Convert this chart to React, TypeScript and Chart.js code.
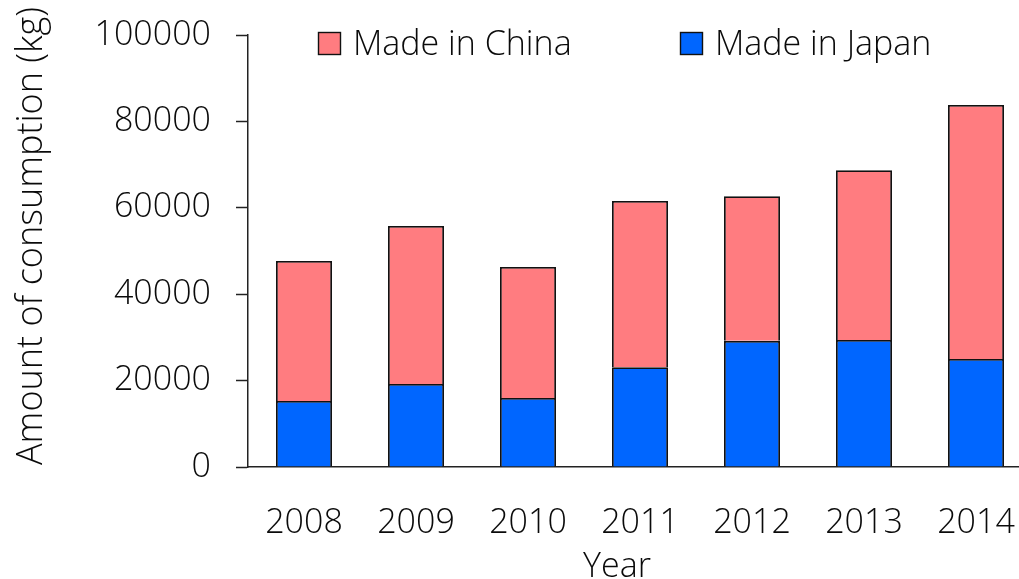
import React, { useEffect, useRef } from "react";
import { Chart, registerables } from "chart.js";

Chart.register(...registerables);

const categories = ["2008", "2009", "2010", "2011", "2012", "2013", "2014"];
const japanValues = [15300, 19200, 16000, 23100, 29200, 29400, 25000];
const totalValues = [47700, 55800, 46300, 61600, 62700, 68700, 83800];
const chinaValues = totalValues.map((t, i) => t - japanValues[i]);
const yTicks = [0, 20000, 40000, 60000, 80000, 100000];
const seriesNames = ["Made in China", "Made in Japan"];
const yTitle = "Amount of consumption (kg)";
const xTitle = "Year";

const FONT = "'Open Sans', sans-serif";
const PINK = "#FF7C80";
const BLUE = "#0066FF";
const INK = "#0a0a0a";

const decorPlugin = {
  id: "decor",
  afterDraw(chart: any) {
    const ctx = chart.ctx;
    ctx.save();
    ctx.fillStyle = INK;
    ctx.font = `300 34px ${FONT}`;
    const items = [
      { name: seriesNames[0], color: PINK, x: 318 },
      { name: seriesNames[1], color: BLUE, x: 680 },
    ];
    items.forEach((it) => {
      ctx.fillStyle = it.color;
      ctx.fillRect(it.x, 32, 23, 23);
      ctx.strokeStyle = "#111";
      ctx.lineWidth = 1.4;
      ctx.strokeRect(it.x + 0.5, 32.5, 22, 22);
      ctx.fillStyle = INK;
      ctx.textAlign = "left";
      ctx.textBaseline = "alphabetic";
      ctx.fillText(it.name, it.x + 35, 55);
    });
    ctx.save();
    ctx.font = `300 36px ${FONT}`;
    ctx.translate(42, 236);
    ctx.rotate(-Math.PI / 2);
    ctx.textAlign = "center";
    ctx.textBaseline = "alphabetic";
    ctx.fillText(yTitle, 0, 0);
    ctx.restore();
    ctx.textAlign = "center";
    ctx.textBaseline = "alphabetic";
    ctx.fillText(xTitle, 617, 577);
    ctx.restore();
  },
};

export default function App() {
  const ref = useRef<HTMLCanvasElement>(null);
  useEffect(() => {
    const canvas = ref.current!;
    const chart = new Chart(canvas, {
      type: "bar",
      data: {
        labels: categories,
        datasets: [
          {
            label: seriesNames[1],
            data: japanValues,
            backgroundColor: BLUE,
            borderColor: "#111",
            borderWidth: 1.8,
            barPercentage: 0.5,
            categoryPercentage: 1,
          },
          {
            label: seriesNames[0],
            data: chinaValues,
            backgroundColor: PINK,
            borderColor: "#111",
            borderWidth: 1.8,
            barPercentage: 0.5,
            categoryPercentage: 1,
          },
        ],
      },
      options: {
        responsive: false,
        devicePixelRatio: 1,
        animation: false,
        layout: { padding: { left: 0, right: 8, top: 35, bottom: 0 } },
        plugins: {
          legend: { display: false },
          tooltip: { enabled: false },
        },
        scales: {
          x: {
            stacked: true,
            grid: { display: false, drawTicks: false },
            border: { display: true, color: "#222", width: 1.5 },
            ticks: {
              color: INK,
              font: { family: FONT, size: 34, weight: "300" as any },
              padding: 36,
              maxRotation: 0,
              autoSkip: false,
            },
            afterFit(scale: any) {
              scale.height = 112;
              scale.paddingLeft = 0;
              scale.paddingRight = 0;
            },
          },
          y: {
            stacked: true,
            min: 0,
            max: 100000,
            afterBuildTicks(scale: any) {
              scale.ticks = yTicks.map((v) => ({ value: v }));
            },
            grid: {
              display: true,
              drawOnChartArea: false,
              drawTicks: true,
              tickLength: 12,
              tickColor: "#222",
              tickWidth: 1.5,
            },
            border: { display: true, color: "#222", width: 1.5 },
            ticks: {
              color: INK,
              font: { family: FONT, size: 34, weight: "300" as any },
              padding: 25,
              callback: (v: any) => String(v),
            },
            afterFit(scale: any) {
              scale.width = 248;
              scale.paddingTop = 0;
              scale.paddingBottom = 0;
            },
          },
        },
      },
      plugins: [decorPlugin],
    });
    return () => chart.destroy();
  }, []);
  return (
    <div
      style={{
        position: "fixed",
        left: 0,
        top: 0,
        width: 1019,
        height: 579,
        overflow: "hidden",
        background: "#fff",
      }}
    >
      <canvas ref={ref} width={1040} height={579} style={{ display: "block" }} />
    </div>
  );
}
